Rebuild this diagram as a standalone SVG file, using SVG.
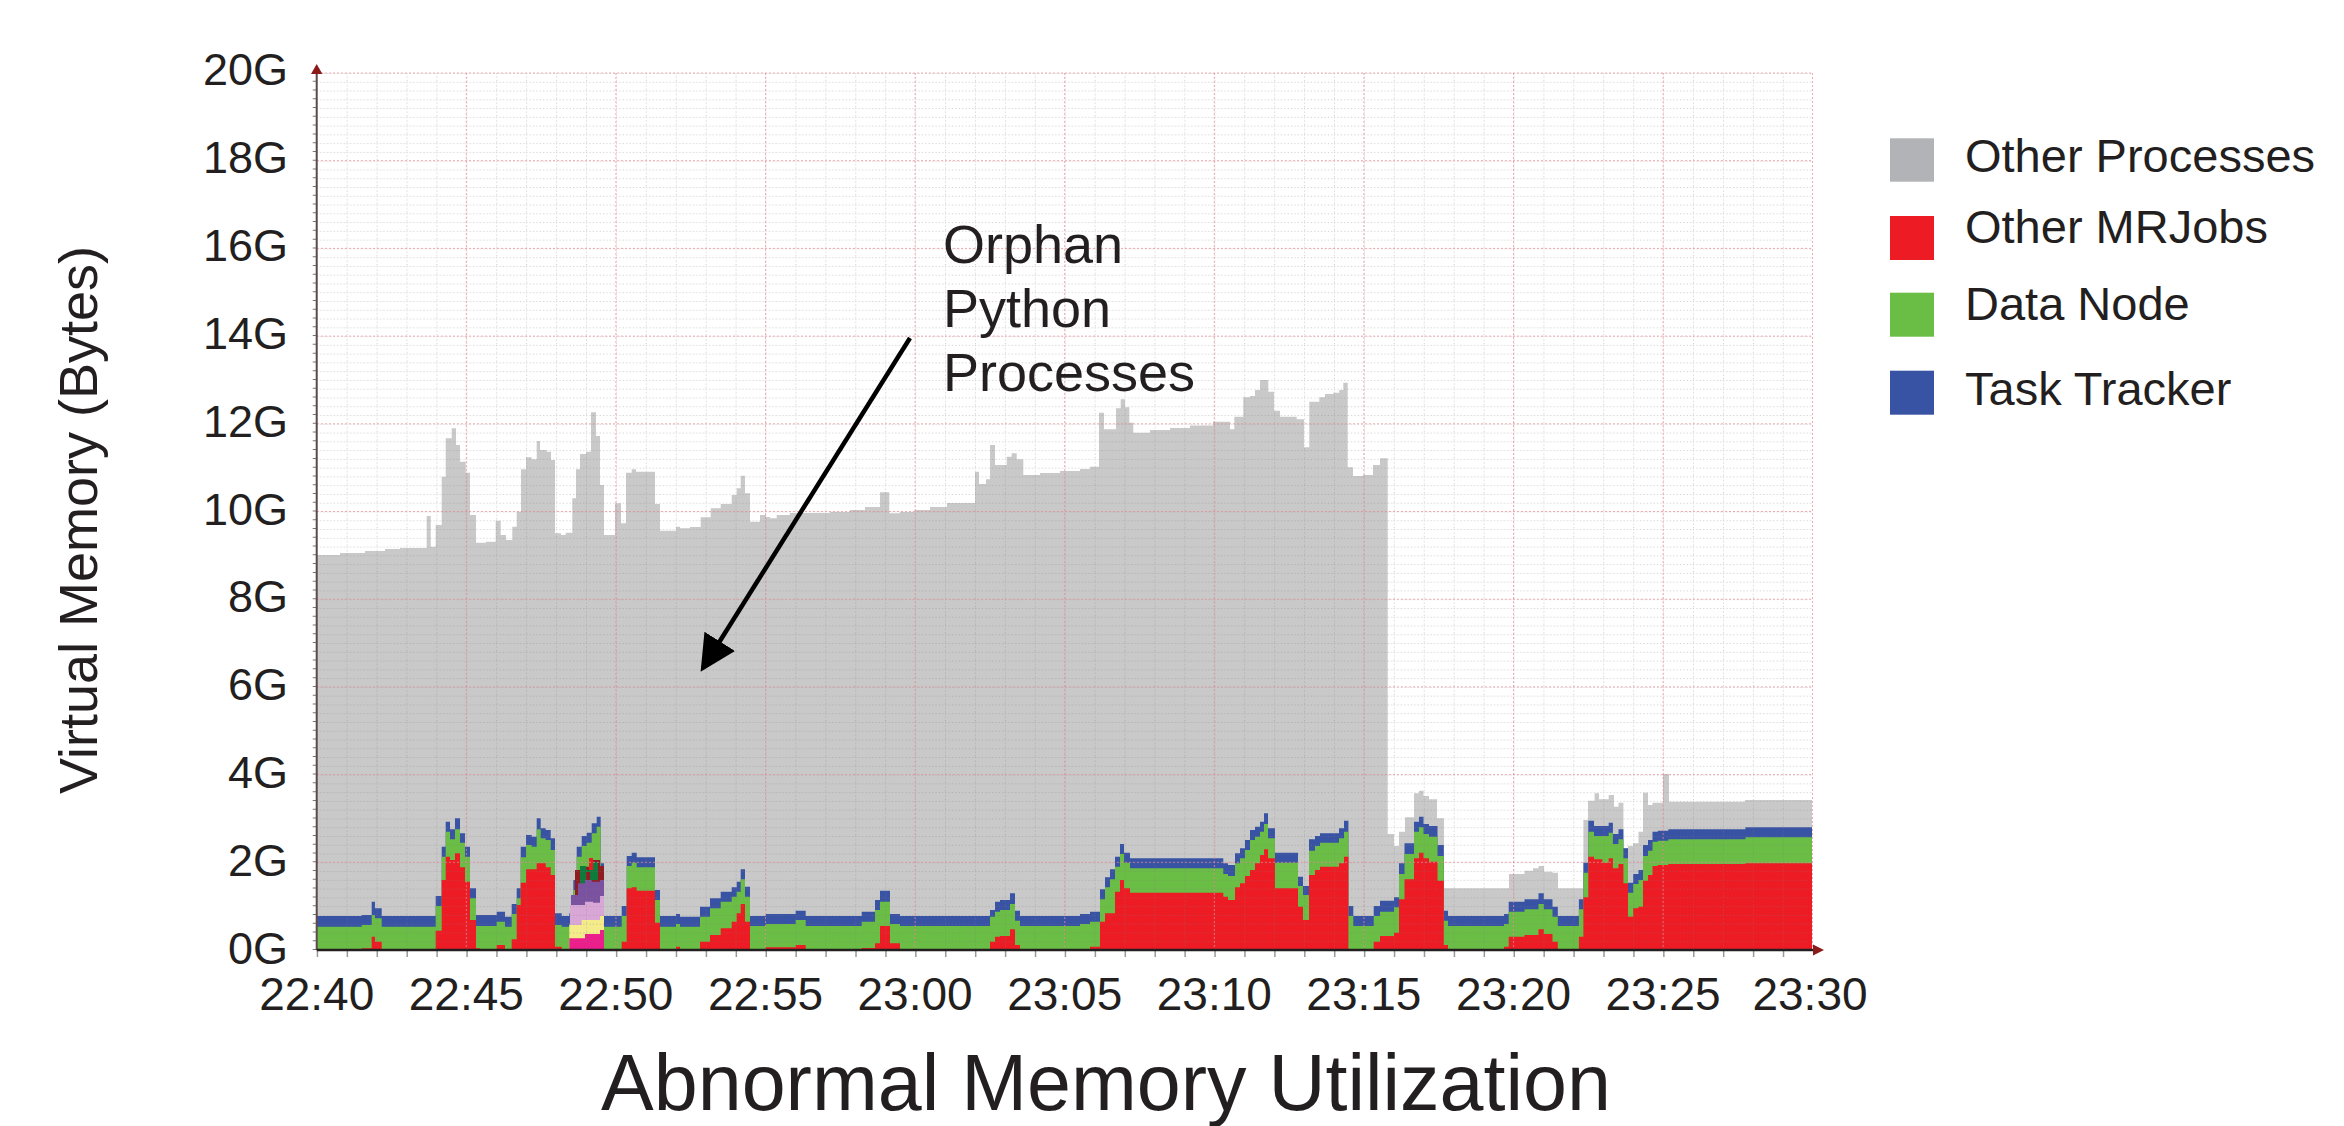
<svg xmlns="http://www.w3.org/2000/svg" width="2344" height="1126" viewBox="0 0 2344 1126">
<style>
text{font-family:"Liberation Sans",Arial,sans-serif;fill:#231f20}
.yl{font-size:45px;text-anchor:end}
.xl{font-size:46px;text-anchor:middle}
.lg{font-size:47px}
.maj{stroke:#ec8a94;stroke-width:1;stroke-dasharray:2 2;opacity:0.7;fill:none}
</style>
<defs>
<pattern id="minor" patternUnits="userSpaceOnUse" x="316.7" y="73" width="29.92" height="8.77">
<path d="M0,0.5 H29.92 M0.5,0 V8.77" stroke="#7a7a7a" stroke-width="1" stroke-dasharray="1.2 2.2" fill="none" opacity="0.35"/>
</pattern>
<marker id="ah" markerWidth="8" markerHeight="8" refX="7" refY="4" orient="auto" markerUnits="strokeWidth">
<path d="M0,0 L8,4 L0,8 Z" fill="#000"/>
</marker>
</defs>
<rect width="2344" height="1126" fill="#fff"/>
<g id="areas">
<path id="gray" fill="#c9c9c9" d="M317,950 V555 H340 V553 H365 V551 H385 V549 H400 V548 H426.7 V516 H430.7 V546.7 H435.7 V525 H441.7 V476.7 H445.7 V438.3 H451.7 V428.3 H456 V445 H460 V461.7 H465.7 V472.7 H470 V515 H476 V542.7 H486 V541.7 H495.7 V520.7 H500.7 V535 H506 V540 H512.3 V526.7 H516.7 V511.7 H521 V469.3 H526 V457.3 H531.7 V459.3 H536.7 V441 H540 V450 H546.7 V451.7 H551 V460 H555 V533.3 H561 V535 H565.7 V532.7 H572.3 V498.3 H576 V469.3 H580 V454 H586 V451.7 H591 V412.3 H596 V436 H600 V485 H604 V535 H615 V503.3 H621 V523.3 H626 V472.7 H631.7 V469.3 H636 V471.7 H655 V504 H660 V530.7 H676 V526.7 H680 V528.3 H690 V527 H700.7 V517.3 H710.7 V508.3 H720.7 V504 H731.7 V495 H736.7 V488.3 H740.7 V475.7 H745 V493.3 H750 V521.7 H760 V515 H766 V517 H770 V518.3 H776.7 V515 H790 V513 H830 V512 H850 V510 H865 V507 H880 V492.3 H889.3 V513.3 H900 V512 H915 V510 H930 V507 H947 V503 H975 V471.7 H979 V484 H986 V479.3 H990 V445 H995 V465 H1006.7 V456.7 H1011.7 V453.3 H1016.7 V459.3 H1023.3 V475 H1040 V473 H1060 V471 H1080 V469 H1090 V466.7 H1099 V412.7 H1104 V429.3 H1116 V408.3 H1120.7 V399.3 H1125 V407.3 H1129.3 V422.7 H1133.3 V432.7 H1150 V430 H1170 V428 H1190 V425.5 H1213 V421.7 H1230 V429.3 H1234.3 V416.7 H1243.3 V397.3 H1250 V396 H1255 V390 H1260 V380 H1268.3 V391.7 H1274 V410.7 H1280 V416.7 H1296.7 V419.3 H1304 V447.3 H1309.3 V401.7 H1319.3 V397.3 H1325 V394 H1333.3 V392.7 H1339.3 V390 H1343.3 V382.7 H1347.7 V467.3 H1353 V476 H1363 V475 H1373 V465 H1380 V458.3 H1387.7 V834 H1394 V846 H1399 V831.7 H1405 V817.3 H1414 V793.3 H1419 V790.7 H1423.5 V796 H1429 V799.3 H1437 V818.3 H1444 V888.3 H1509 V874 H1524.5 V870.7 H1533 V868.3 H1538.5 V866 H1544 V871.7 H1552.5 V872.7 H1558 V888.3 H1583.4 V820 H1588 V800.7 H1594.6 V793.3 H1599 V799.3 H1608.7 V795 H1614 V806.7 H1618.5 V802.7 H1623.4 V848.3 H1628 V846 H1633 V843.3 H1638.5 V831.7 H1643 V792.7 H1648 V805 H1652.5 V802.7 H1663 V774 H1669 V801.7 H1745 V800 H1812 V950 Z"/>
<path id="blue" fill="#3953a4" d="M317,950 V916 H361.7 V915 H371.7 V901.7 H375 V908.3 H381.7 V916 H435.7 V896 H441.7 V846.7 H445.7 V821.7 H450 V829.3 H455 V818.3 H460 V833.3 H465 V846.7 H470 V888.3 H476 V915 H496.7 V911.7 H505 V916.7 H511.7 V904 H516.7 V888.3 H520.7 V846.7 H526 V835 H531.7 V836.7 H536.7 V818.3 H540.7 V828.3 H545.7 V830 H550.7 V838.3 H555 V913.3 H561.7 V916 H569.3 V913.3 H573.3 V880 H576.7 V846.7 H581.7 V836 H586.7 V832.7 H591.7 V823.3 H596.7 V816.7 H600.7 V863.3 H604 V916 H621.7 V906 H626.7 V856 H631.7 V852.7 H636.7 V857.3 H655 V890 H660 V916 H676 V914 H680 V916.7 H700 V906.7 H710 V898.3 H720.7 V891.7 H731.7 V887.3 H736.7 V881.7 H740.7 V869.3 H745 V886.7 H750 V916 H765.7 V914 H795.7 V910.7 H805.7 V916 H861.7 V911.7 H875 V900 H880 V890.7 H890 V914 H900 V916 H990 V910 H995 V901.7 H1000 V900 H1010 V893.3 H1015 V910.7 H1020 V916 H1080 V914 H1090 V911.7 H1100 V889.3 H1105 V877.3 H1110 V869.3 H1115 V856.7 H1120 V844 H1124 V852.7 H1130 V858.3 H1223.3 V863.3 H1228 V865 H1235 V853.3 H1240 V848.3 H1245 V840 H1250 V830 H1255 V826.7 H1260 V821.7 H1264 V813.3 H1268 V828.3 H1275 V852.7 H1298 V876.7 H1303 V886 H1309 V839.3 H1315 V836 H1320 V833.3 H1339 V828.3 H1344 V820.7 H1348.4 V906 H1353.3 V916 H1373.7 V906 H1380 V900.7 H1394 V897.3 H1399 V863.3 H1404.5 V843.3 H1414 V821.7 H1419 V816.7 H1423.5 V824 H1429 V826 H1437.5 V845 H1443.8 V910.7 H1448 V916 H1504 V914 H1508.7 V901.7 H1524.5 V899.3 H1538.5 V893.3 H1543.8 V899.3 H1552.5 V906.7 H1557.8 V916 H1578.9 V899.3 H1583.4 V862.7 H1588.3 V820.7 H1594 V826 H1608.7 V822.7 H1612.9 V834 H1618.5 V829.3 H1623.4 V848.3 H1628 V882.7 H1633.2 V874 H1638.5 V870 H1643 V845 H1648 V840 H1652.5 V831.7 H1657.8 V830.7 H1668.3 V829.3 H1745.4 V827.3 H1812 V950 Z"/>
<path id="green" fill="#6abd45" d="M317,950 V926.7 H361.7 V925 H371.7 V915 H375 V918.3 H381.7 V926.7 H435.7 V906 H441.7 V856.7 H445.7 V831.7 H450 V839.3 H455 V829.3 H460 V842.7 H465 V856.7 H470 V898.3 H476 V926 H496.7 V921.7 H505 V926.7 H511.7 V914 H516.7 V898.3 H520.7 V857.3 H526 V845 H531.7 V846.7 H536.7 V829.3 H540.7 V838.3 H545.7 V840 H550.7 V850 H555 V925 H561.7 V926.7 H569.3 V923.3 H573.3 V890 H576.7 V856.7 H581.7 V846 H586.7 V842.7 H591.7 V833.3 H596.7 V826.7 H600.7 V873.3 H604 V926.7 H621.7 V916 H626.7 V866 H631.7 V862.7 H636.7 V867.3 H655 V900 H660 V926.7 H676 V924 H680 V926.7 H700 V916.7 H710 V908.3 H720.7 V901.7 H731.7 V896.7 H736.7 V891.7 H740.7 V879.3 H745 V896.7 H750 V926 H765.7 V924 H795.7 V920 H805.7 V926 H861.7 V921.7 H875 V910 H880 V901.7 H890 V924 H900 V926 H990 V916.7 H995 V911.7 H1000 V910 H1010 V904 H1015 V920.7 H1020 V926 H1080 V924 H1090 V921.7 H1100 V899.3 H1105 V887.3 H1110 V879.3 H1115 V866.7 H1120 V854 H1124 V862.7 H1130 V868.3 H1223.3 V874 H1228 V876 H1235 V863.3 H1240 V858.3 H1245 V850 H1250 V840 H1255 V836.7 H1260 V831.7 H1264 V824 H1268 V838.3 H1275 V862.7 H1298 V886 H1303 V895 H1309 V850.7 H1315 V846 H1320 V842.7 H1339 V838.3 H1344 V831.7 H1348.4 V916 H1353.3 V926 H1373.7 V916 H1380 V911.7 H1394 V907.3 H1399 V874 H1404.5 V854 H1414 V831.7 H1419 V827.3 H1423.5 V834 H1429 V836.7 H1437.5 V856 H1443.8 V920.7 H1448 V926 H1504 V924 H1508.7 V911.7 H1524.5 V909.3 H1538.5 V904 H1543.8 V909.3 H1552.5 V916.7 H1557.8 V926 H1578.9 V909.3 H1583.4 V872.7 H1588.3 V831.7 H1594 V836 H1608.7 V832.7 H1612.9 V844 H1618.5 V839.3 H1623.4 V858.3 H1628 V892.7 H1633.2 V884 H1638.5 V880 H1643 V856 H1648 V850.7 H1652.5 V841.7 H1657.8 V840.7 H1668.3 V839.3 H1745.4 V837.3 H1812 V950 Z"/>
<path id="red" fill="#ed1c24" d="M317,950 H361.7 V948.3 H371.7 V936.7 H375 V941.7 H381.7 V950 H435.7 V930.7 H441.7 V880 H445.7 V856.7 H450 V860 H455 V853.3 H460 V867.3 H465 V881.7 H470 V920 H476 V948.3 H480 V950 H496.7 V945 H505 V950 H511.7 V939.3 H516.7 V905 H520.7 V882.7 H526 V869.3 H536.7 V863.3 H545.7 V867.3 H550.7 V875 H555 V946.7 H561.7 V950 H621.7 V941.7 H626.7 V888.3 H631.7 V887.3 H636.7 V890.7 H655 V922.7 H660 V950 H676 V946.7 H680 V950 H700 V941.7 H710 V935 H720.7 V928.3 H731.7 V921.7 H736.7 V913.3 H740.7 V904 H745 V921.7 H750 V950 H765.7 V947.3 H795.7 V945 H805.7 V950 H861.7 V948 H875 V943.3 H880 V926 H890 V943.3 H900 V950 H990 V941.7 H995 V936.7 H1000 V936 H1010 V929.3 H1015 V945 H1020 V950 H1080 V949 H1090 V946.7 H1100 V921.7 H1105 V913.3 H1115 V891.7 H1120 V880 H1124 V888.3 H1130 V892.7 H1223.3 V896.7 H1228 V900 H1235 V887.3 H1240 V883.3 H1245 V876 H1250 V870 H1255 V863.3 H1260 V855 H1264 V849.3 H1268 V858.3 H1275 V888.3 H1298 V906.7 H1303 V920 H1309 V875 H1315 V870 H1320 V866.7 H1339 V863.3 H1344 V856.7 H1348.4 V950 H1373.7 V941.7 H1380 V936 H1394 V932.7 H1399 V899.3 H1404.5 V879.3 H1414 V858.3 H1419 V852.7 H1423.5 V858.3 H1429 V861.7 H1437.5 V880.7 H1443.8 V945 H1448 V950 H1504 V946.7 H1508.7 V936.7 H1524.5 V935 H1538.5 V929.3 H1543.8 V934 H1552.5 V941.7 H1557.8 V950 H1578.9 V936.7 H1583.4 V897.3 H1588.3 V856.7 H1594 V859.3 H1602.4 V862.7 H1608.7 V858.3 H1612.9 V868.3 H1618.5 V864 H1623.4 V883.3 H1628 V916.7 H1633.2 V908.3 H1638.5 V906.7 H1643 V880.7 H1648 V875 H1652.5 V866 H1657.8 V865 H1668.3 V864 H1745.4 V863.3 H1812 V950 Z"/>
<path fill="#8e1c20" d="M571,950 V895 H575 V870 H581.7 V866.7 H591.7 V860 H600 V866 H604 V950 Z"/>
<path fill="#0f7a3c" d="M580,885 H586 V872 H590 V880 H598 V862 H592 V870 H586 V866 H580 Z"/>
<path fill="#ed1c24" d="M589,870 H593 V858 H589 Z"/>
<path fill="#7b52a0" d="M571,950 V895 H578 V883.3 H585 V880 H591.7 V881.7 H600 V880 H604 V950 Z"/>
<path fill="#d9a7d6" d="M570,950 V905 H585 V901.7 H593 V902.7 H600 V896 H604 V950 Z"/>
<path fill="#f4eb8b" d="M569.3,950 V925 H581.7 V920 H600 V916 H604 V950 Z"/>
<path fill="#ec1e8c" d="M569.3,950 V938.3 H585 V934 H600 V930 H604 V950 Z"/>
</g>
<g id="grid">
<rect x="316.7" y="73" width="1495.6" height="877" fill="url(#minor)"/>
<path class="maj" d="M317,862.3 H1812 M317,774.6 H1812 M317,686.9 H1812 M317,599.2 H1812 M317,511.5 H1812 M317,423.8 H1812 M317,336.1 H1812 M317,248.4 H1812 M317,160.7 H1812 M317,73 H1812 M466.3,73 V950 M615.9,73 V950 M765.5,73 V950 M915.1,73 V950 M1064.7,73 V950 M1214.3,73 V950 M1363.9,73 V950 M1513.5,73 V950 M1663.1,73 V950 M1812.5,73 V950"/>
</g>
<g id="axes">
<line x1="314.7" y1="950" x2="314.7" y2="73" stroke="#777" stroke-width="4" stroke-dasharray="1 7.77"/>
<line x1="316.7" y1="954" x2="1812" y2="954" stroke="#999" stroke-width="6" stroke-dasharray="1.5 28.42"/>
<line x1="316.7" y1="950" x2="316.7" y2="72" stroke="#5e4a4a" stroke-width="2"/>
<path d="M316.7,64 L311,74 L322.4,74 Z" fill="#8b1a1a"/>
<line x1="316.7" y1="950" x2="1815" y2="950" stroke="#231f20" stroke-width="2.5"/>
<path d="M1824,950 L1813,944.5 L1813,955.5 Z" fill="#8b1a1a"/>
</g>
<g id="ylabels">
<text class="yl" x="288" y="964">0G</text>
<text class="yl" x="288" y="876.1">2G</text>
<text class="yl" x="288" y="788.2">4G</text>
<text class="yl" x="288" y="700.3">6G</text>
<text class="yl" x="288" y="612.4">8G</text>
<text class="yl" x="288" y="524.5">10G</text>
<text class="yl" x="288" y="436.6">12G</text>
<text class="yl" x="288" y="348.7">14G</text>
<text class="yl" x="288" y="260.8">16G</text>
<text class="yl" x="288" y="172.9">18G</text>
<text class="yl" x="288" y="85">20G</text>
</g>
<g id="xlabels">
<text class="xl" x="316.7" y="1009.5">22:40</text>
<text class="xl" x="466.3" y="1009.5">22:45</text>
<text class="xl" x="615.9" y="1009.5">22:50</text>
<text class="xl" x="765.5" y="1009.5">22:55</text>
<text class="xl" x="915.1" y="1009.5">23:00</text>
<text class="xl" x="1064.7" y="1009.5">23:05</text>
<text class="xl" x="1214.3" y="1009.5">23:10</text>
<text class="xl" x="1363.9" y="1009.5">23:15</text>
<text class="xl" x="1513.5" y="1009.5">23:20</text>
<text class="xl" x="1663.1" y="1009.5">23:25</text>
<text class="xl" x="1810" y="1009.5">23:30</text>
</g>
<text x="0" y="0" font-size="54" text-anchor="middle" transform="translate(97,520) rotate(-90)">Virtual Memory (Bytes)</text>
<text x="1106" y="1110" font-size="79" text-anchor="middle">Abnormal Memory Utilization</text>
<g id="annotation">
<line x1="910" y1="338" x2="703" y2="668" stroke="#000" stroke-width="4.5" marker-end="url(#ah)"/>
<text x="943" y="263" font-size="54">Orphan</text>
<text x="943" y="327" font-size="54">Python</text>
<text x="943" y="391" font-size="54">Processes</text>
</g>
<g id="legend">
<rect x="1890" y="138.3" width="44" height="43.4" fill="#b1b3b6"/>
<rect x="1890" y="216" width="44" height="44" fill="#ed1c24"/>
<rect x="1890" y="292.7" width="44" height="44" fill="#6abd45"/>
<rect x="1890" y="370.7" width="44" height="44" fill="#3953a4"/>
<text class="lg" x="1965" y="171.7">Other Processes</text>
<text class="lg" x="1965" y="242.7">Other MRJobs</text>
<text class="lg" x="1965" y="320">Data Node</text>
<text class="lg" x="1965" y="405">Task Tracker</text>
</g>
</svg>
